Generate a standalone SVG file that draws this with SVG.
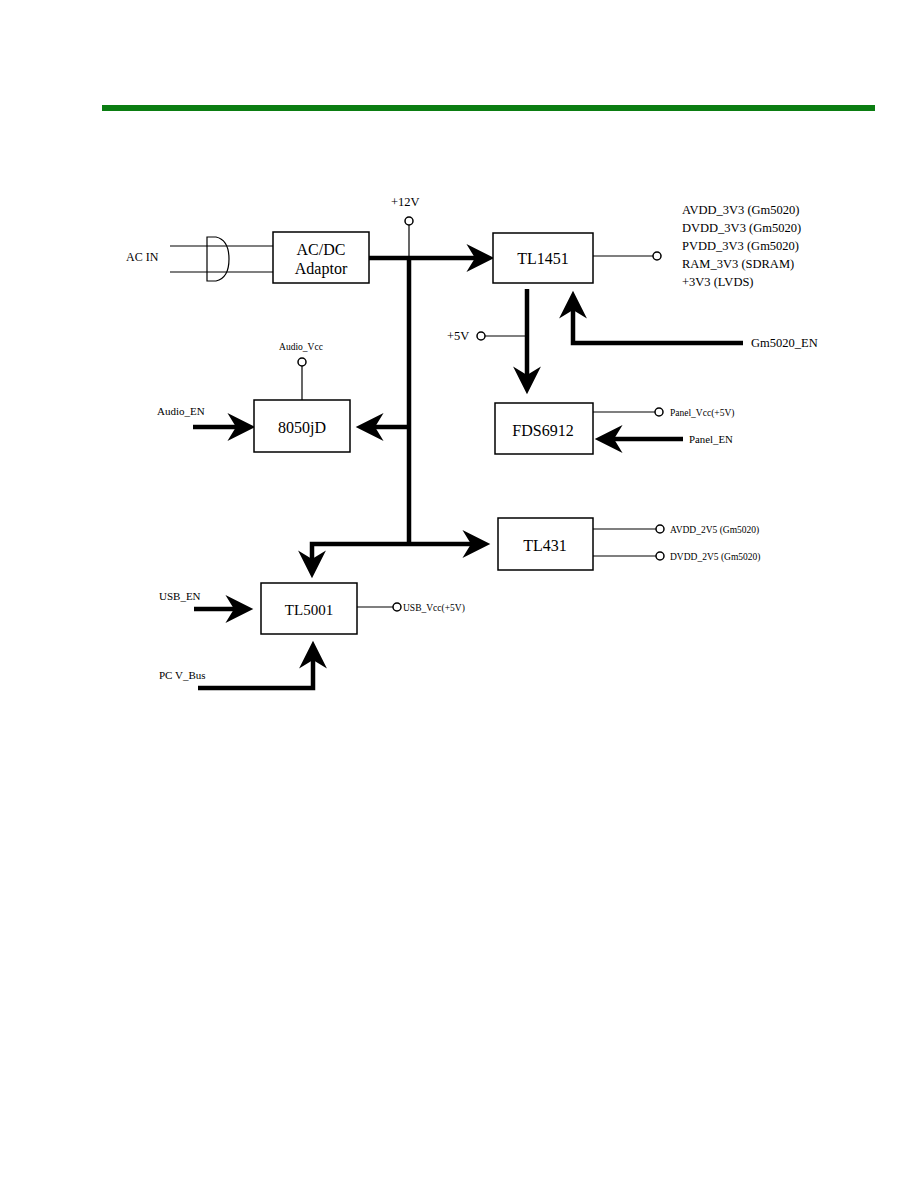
<svg xmlns="http://www.w3.org/2000/svg" width="918" height="1188" viewBox="0 0 918 1188" font-family="'Liberation Serif', 'Times New Roman', serif">
<style>
.box{fill:#fff;stroke:#000;stroke-width:1.5}
.thin{fill:none;stroke:#000;stroke-width:1.2}
.thick{fill:none;stroke:#000;stroke-width:4.5;stroke-linejoin:miter;stroke-linecap:butt}
.arr{marker-end:url(#ah)}
.term{fill:#fff;stroke:#000;stroke-width:1.5}
text{fill:#000}
.big{font-size:16px;text-anchor:middle}
.mid{font-size:12.5px}
.sm{font-size:11px}
.xs{font-size:9.5px}
</style>
<defs>
<marker id="ah" markerUnits="userSpaceOnUse" markerWidth="30" markerHeight="30" viewBox="0 -14 28 28" refX="8" refY="0" orient="auto">
<path d="M0,-13 L26,0 L0,13 L8,0 Z" fill="#000"/>
</marker>
</defs>
<rect x="102" y="105" width="773" height="6" fill="#0b7d12"/>

<g id="connectors">
<path class="thin" d="M170,246 H273 M170,272 H273"/>
<path class="thin" d="M207,237 H216 Q229,240 229,259 Q229,278 216,281 H207 Z"/>
<path class="thin" d="M409,225 V258"/>
<path class="thick arr" d="M369,258 H475"/>
<path class="thick" d="M409,258 V544"/>
<path class="thin" d="M593,256 H653"/>
<path class="thick arr" d="M527,289 V375"/>
<path class="thin" d="M485,336 H527"/>
<path class="thick arr" d="M743,343 H573 V310"/>
<path class="thin" d="M302,366 V400"/>
<path class="thick arr" d="M193,427 H236"/>
<path class="thick arr" d="M409,427 H375"/>
<path class="thin" d="M593,412 H655"/>
<path class="thick arr" d="M683,439 H614"/>
<path class="thick arr" d="M409,544 H471"/>
<path class="thick arr" d="M409,544 H312 V559"/>
<path class="thin" d="M593,529 H656 M593,556 H656"/>
<path class="thick arr" d="M194,609 H234"/>
<path class="thin" d="M357,607 H393"/>
<path class="thick arr" d="M198,688 H313 V660"/>
</g>

<g id="ac_in"><text x="126" y="261" font-size="12">AC IN</text></g>

<g id="v12"><circle class="term" cx="409" cy="221" r="4"/><text class="mid" x="391" y="206">+12V</text></g>

<g id="acdc"><rect class="box" x="273" y="232" width="96" height="51"/><text class="big" x="321" y="255">AC/DC</text><text class="big" x="321" y="274">Adaptor</text></g>

<g id="tl1451"><rect class="box" x="493" y="233" width="100" height="50"/><text class="big" x="543" y="264">TL1451</text></g>

<g id="out3v3"><circle class="term" cx="657" cy="256" r="4"/>
<text class="mid" x="682" y="214">AVDD_3V3 (Gm5020)</text>
<text class="mid" x="682" y="232">DVDD_3V3 (Gm5020)</text>
<text class="mid" x="682" y="250">PVDD_3V3 (Gm5020)</text>
<text class="mid" x="682" y="268">RAM_3V3 (SDRAM)</text>
<text class="mid" x="682" y="286">+3V3 (LVDS)</text></g>

<g id="v5"><circle class="term" cx="481" cy="336" r="4"/><text class="mid" x="447" y="340">+5V</text></g>

<g id="gm5020_en"><text class="mid" x="751" y="347">Gm5020_EN</text></g>

<g id="audio_vcc"><circle class="term" cx="302" cy="362" r="4"/><text class="xs" x="301" y="350" text-anchor="middle">Audio_Vcc</text></g>

<g id="audio_en"><text class="sm" x="157" y="415">Audio_EN</text></g>

<g id="n8050jd"><rect class="box" x="254" y="400" width="96" height="52"/><text class="big" x="302" y="433">8050jD</text></g>

<g id="fds6912"><rect class="box" x="495" y="403" width="98" height="51"/><text class="big" x="543" y="436">FDS6912</text></g>

<g id="panel_vcc"><circle class="term" cx="659" cy="412" r="4"/><text class="xs" x="670" y="416">Panel_Vcc(+5V)</text></g>

<g id="panel_en"><text x="689" y="443" font-size="10.8">Panel_EN</text></g>

<g id="tl431"><rect class="box" x="498" y="518" width="95" height="52"/><text class="big" x="545" y="551">TL431</text></g>

<g id="avdd_2v5"><circle class="term" cx="660" cy="529" r="4"/><text class="xs" x="670" y="533">AVDD_2V5 (Gm5020)</text></g>

<g id="dvdd_2v5"><circle class="term" cx="660" cy="556" r="4"/><text class="xs" x="670" y="560">DVDD_2V5 (Gm5020)</text></g>

<g id="usb_en"><text class="sm" x="159" y="600">USB_EN</text></g>

<g id="tl5001"><rect class="box" x="261" y="583" width="96" height="51"/><text x="309" y="615" font-size="15" text-anchor="middle">TL5001</text></g>

<g id="usb_vcc"><circle class="term" cx="397" cy="607" r="4"/><text class="xs" x="403" y="611">USB_Vcc(+5V)</text></g>

<g id="pc_vbus"><text class="sm" x="159" y="679">PC V_Bus</text></g>
</svg>
